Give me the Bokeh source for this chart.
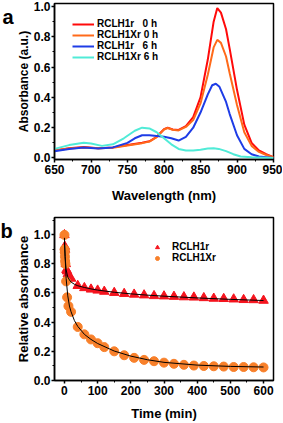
from bokeh.plotting import figure
from bokeh.layouts import column
from bokeh.models import (Range1d, SingleIntervalTicker, Legend, LegendItem, Label, PrintfTickFormatter)
from bokeh.embed import file_html
from bokeh.resources import INLINE

# ---------------- Panel a data: absorption spectra ----------------
wl_r0 = [650, 670, 690, 710, 730, 750, 770, 780, 790, 800, 805, 812, 820, 830, 840, 850, 860, 868, 873, 878, 885, 890, 900, 910, 920, 930, 940, 950]
ab_r0 = [0.05, 0.065, 0.072, 0.065, 0.07, 0.085, 0.10, 0.11, 0.14, 0.19, 0.20, 0.188, 0.185, 0.21, 0.27, 0.40, 0.65, 0.90, 0.99, 0.96, 0.85, 0.72, 0.45, 0.22, 0.10, 0.05, 0.025, 0.005]

wl_x0 = [650, 670, 690, 710, 730, 750, 770, 780, 790, 800, 805, 812, 820, 830, 840, 850, 860, 868, 873, 878, 885, 890, 900, 910, 920, 930, 940, 950]
ab_x0 = [0.05, 0.063, 0.07, 0.064, 0.068, 0.083, 0.098, 0.108, 0.138, 0.188, 0.198, 0.186, 0.182, 0.205, 0.25, 0.36, 0.55, 0.73, 0.78, 0.76, 0.67, 0.56, 0.35, 0.17, 0.08, 0.04, 0.02, 0.005]

wl_r6 = [650, 670, 690, 710, 730, 750, 760, 770, 780, 790, 800, 810, 820, 830, 840, 850, 860, 866, 871, 876, 885, 890, 900, 910, 920, 930, 940, 950]
ab_r6 = [0.045, 0.06, 0.07, 0.062, 0.07, 0.10, 0.13, 0.15, 0.15, 0.145, 0.14, 0.13, 0.115, 0.14, 0.20, 0.30, 0.42, 0.48, 0.49, 0.47, 0.37, 0.29, 0.15, 0.06, 0.025, 0.01, 0.005, 0.0]

wl_x6 = [650, 670, 690, 700, 715, 730, 745, 760, 770, 780, 790, 800, 810, 820, 830, 840, 850, 860, 868, 875, 885, 895, 905, 920, 950]
ab_x6 = [0.06, 0.085, 0.10, 0.095, 0.08, 0.09, 0.13, 0.18, 0.20, 0.195, 0.17, 0.13, 0.09, 0.06, 0.05, 0.05, 0.055, 0.063, 0.065, 0.06, 0.045, 0.025, 0.01, 0.005, 0.0]

labels_a = ["RCLH1r\u00a0\u00a0\u00a00 h", "RCLH1Xr 0 h", "RCLH1r\u00a0\u00a0\u00a06 h", "RCLH1Xr 6 h"]
colors_a = ["#FF0A0A", "#FF6A1A", "#1E3CE6", "#50EBD7"]

# ---------------- Panel b data: relative absorbance vs time ----------------
t_r = [0, 1, 2, 4, 6, 8, 10, 15, 20, 40, 60, 80, 100, 120, 150, 180, 210, 240, 270, 300, 330, 360, 390, 420, 450, 480, 510, 540, 570, 600]
v_r = [1.0, 0.92, 0.90, 0.80, 0.76, 0.75, 0.73, 0.71, 0.70, 0.65, 0.635, 0.625, 0.618, 0.61, 0.602, 0.595, 0.59, 0.585, 0.58, 0.578, 0.575, 0.572, 0.57, 0.566, 0.562, 0.56, 0.557, 0.553, 0.552, 0.548]

t_x = [0, 0.5, 1, 1.5, 2, 3, 5, 8, 12, 20, 40, 60, 80, 100, 120, 150, 180, 210, 240, 270, 300, 330, 360, 390, 420, 450, 480, 510, 540, 570, 600]
v_x = [1.0, 0.90, 0.88, 0.85, 0.82, 0.80, 0.68, 0.57, 0.51, 0.47, 0.366, 0.315, 0.28, 0.254, 0.227, 0.198, 0.171, 0.153, 0.139, 0.13, 0.12, 0.112, 0.105, 0.10, 0.097, 0.095, 0.093, 0.09, 0.09, 0.088, 0.087]

t_fit = [0, 2, 5, 10, 15, 20, 30, 40, 60, 80, 100, 150, 200, 250, 300, 400, 500, 600]
fit_r = [0.95, 0.85, 0.76, 0.71, 0.69, 0.675, 0.66, 0.65, 0.638, 0.628, 0.62, 0.605, 0.594, 0.585, 0.578, 0.566, 0.556, 0.548]
fit_x = [0.98, 0.85, 0.70, 0.58, 0.51, 0.47, 0.41, 0.37, 0.315, 0.28, 0.252, 0.20, 0.165, 0.14, 0.122, 0.103, 0.094, 0.09]

labels_b = ["RCLH1r", "RCLH1Xr"]
colors_b = ["#F5141E", "#F8802A"]

FONT = "Liberation Sans"


def style(p, xlabel, ylabel, xint, yint, xls, yls):
    p.outline_line_color = "black"
    p.outline_line_width = 1.5
    p.outline_line_alpha = 1
    p.grid.visible = False
    p.background_fill_color = "white"
    p.border_fill_color = "white"
    p.xaxis[0].ticker = SingleIntervalTicker(interval=xint, num_minor_ticks=2)
    p.yaxis[0].ticker = SingleIntervalTicker(interval=yint, num_minor_ticks=2)
    p.yaxis[0].formatter = PrintfTickFormatter(format="%.1f")
    p.xaxis.axis_label = xlabel
    p.yaxis.axis_label = ylabel
    for ax in [p.xaxis[0], p.yaxis[0]]:
        ax.axis_line_width = 1.5
        ax.major_tick_in = 0
        ax.major_tick_out = 3
        ax.major_tick_line_width = 1.5
        ax.minor_tick_in = 0
        ax.minor_tick_out = 2
        ax.minor_tick_line_width = 1
        ax.major_label_text_font = FONT
        ax.major_label_text_font_style = "bold"
        ax.major_label_text_font_size = "12px"
        ax.major_label_text_color = "black"
        ax.axis_label_text_font = FONT
        ax.axis_label_text_font_style = "bold"
        ax.axis_label_text_color = "black"
    p.xaxis[0].major_label_standoff = 2
    p.yaxis[0].major_label_standoff = 1
    p.xaxis[0].axis_label_text_font_size = "13px"
    p.yaxis[0].axis_label_text_font_size = yls
    p.xaxis[0].axis_label_standoff = xls
    p.yaxis[0].axis_label_standoff = 0


def panel_letter(p, letter, y):
    p.add_layout(Label(x=0, y=y, x_units="screen", y_units="screen", text=letter,
                       text_font=FONT, text_font_style="bold", text_font_size="20px",
                       text_baseline="alphabetic", text_color="black"), "left")


# ---------------- Panel a ----------------
pa = figure(width=282, height=205, output_backend="svg", toolbar_location=None,
            x_range=Range1d(650, 950), y_range=Range1d(-0.01, 1.02),
            min_border_left=49, min_border_right=9, min_border_top=3, min_border_bottom=41)
style(pa, "Wavelength (nm)", "Absorbance (a.u.)", 50, 0.2, 11, "12px")

xs_a = [wl_r0, wl_x0, wl_r6, wl_x6]
ys_a = [ab_r0, ab_x0, ab_r6, ab_x6]
items_a = []
for xs, ys, c, lab in zip(xs_a, ys_a, colors_a, labels_a):
    r = pa.line(xs, ys, line_color=c, line_width=2)
    items_a.append(LegendItem(label=lab, renderers=[r]))

leg_a = Legend(items=items_a, location=(18, 97), border_line_alpha=0,
               background_fill_alpha=0, padding=0, margin=0, spacing=0,
               glyph_width=22, glyph_height=10, label_height=10, label_standoff=3,
               label_text_font=FONT, label_text_font_style="bold",
               label_text_font_size="10px", label_text_color="black")
pa.add_layout(leg_a)
panel_letter(pa, "a", 143)

# ---------------- Panel b ----------------
pb = figure(width=282, height=218, output_backend="svg", toolbar_location=None,
            x_range=Range1d(-30, 630), y_range=Range1d(-0.003, 1.12),
            min_border_left=49, min_border_right=9, min_border_top=12, min_border_bottom=38)
style(pb, "Time (min)", "Relative absorbance", 100, 0.2, 8, "13px")

rb1 = pb.scatter(t_r, v_r, marker="triangle", size=9.5, fill_color=colors_b[0], line_color=colors_b[0])
rb2 = pb.scatter(t_x, v_x, marker="circle", size=9, fill_color=colors_b[1], line_color=colors_b[1])
pb.line(t_fit, fit_r, line_color="black", line_width=1)
pb.line(t_fit, fit_x, line_color="black", line_width=1)

leg_b = Legend(items=[LegendItem(label=labels_b[0], renderers=[rb1]),
                      LegendItem(label=labels_b[1], renderers=[rb2])],
               location=(97, 117), border_line_alpha=0, background_fill_alpha=0,
               padding=0, margin=0, spacing=0, glyph_width=12, glyph_height=10,
               label_height=10, label_standoff=9,
               label_text_font=FONT, label_text_font_style="bold",
               label_text_font_size="10px", label_text_color="black")
pb.add_layout(leg_b)
panel_letter(pb, "b", 150)

layout = column(pa, pb, spacing=0)
open("out.html", "w").write(file_html(layout, INLINE))
